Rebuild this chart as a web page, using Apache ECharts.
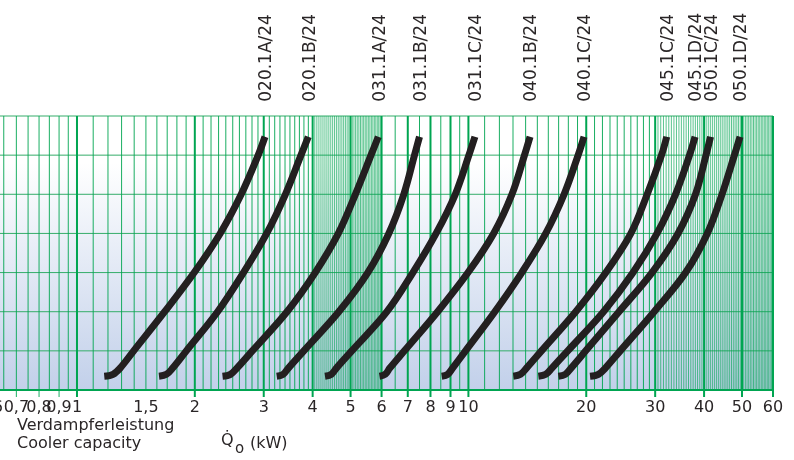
<!DOCTYPE html>
<html>
<head>
<meta charset="utf-8">
<script src="https://cdn.jsdelivr.net/npm/echarts@6/dist/echarts.min.js"></script>
<style>
  html, body { margin: 0; padding: 0; background: #ffffff; }
  #chart { width: 794px; height: 460px; }
</style>
</head>
<body>
<div id="chart"></div>
<script>
// Cooler capacity Q0 (kW) on a logarithmic scale, one curve per unit type.
const tickValues = [0.6, 0.7, 0.8, 0.9, 1, 1.5, 2, 3, 4, 5, 6, 7, 8, 9, 10, 20, 30, 40, 50, 60];
const tickLabels = ['0,6', '0,7', '0,8', '0,9', '1', '1,5', '2', '3', '4', '5', '6', '7', '8', '9', '10', '20', '30', '40', '50', '60'];
const heavyTicks = [1, 2, 3, 4, 5, 6, 7, 8, 9, 10, 20, 30, 40, 50, 60];
const lightTicks = [0.7, 0.8, 0.9];
// log-paper rulings: [from, to, step]
const rulingSteps = [[0.6, 1, 0.05], [1, 4, 0.1], [4, 6, 0.05], [6, 10, 0.5], [10, 30, 1], [30, 60, 0.5]];
const levelRulings = [1, 2, 3, 4, 5, 6, 7];

const unitNames = ['020.1A/24', '020.1B/24', '031.1A/24', '031.1B/24', '031.1C/24', '040.1B/24',
                   '040.1C/24', '045.1C/24', '045.1D/24', '050.1C/24', '050.1D/24'];

// vertical levels shared by every curve
const levels = [0.35, 0.40, 0.56, 1, 2, 3, 4, 5, 6, 6.47];

// capacity (kW) of each unit at the levels above
const q020_1A = [1.174, 1.236, 1.289, 1.396, 1.675, 1.993, 2.322, 2.628, 2.904, 3.022];
const q020_1B = [1.620, 1.693, 1.756, 1.903, 2.287, 2.663, 3.053, 3.408, 3.735, 3.899];
const q031_1A = [2.354, 2.467, 2.563, 2.805, 3.440, 4.061, 4.652, 5.144, 5.638, 5.886];
const q031_1B = [3.238, 3.362, 3.468, 3.797, 4.665, 5.533, 6.261, 6.838, 7.283, 7.500];
const q031_1C = [4.301, 4.464, 4.600, 5.036, 6.191, 7.214, 8.269, 9.258, 10.03, 10.39];
const q040_1B = [5.927, 6.130, 6.298, 6.863, 8.343, 9.977, 11.60, 12.92, 13.91, 14.37];
const q040_1C = [8.546, 8.854, 9.112, 9.831, 11.68, 13.69, 15.76, 17.56, 19.07, 19.74];
const q045_1C = [13.02, 13.59, 14.07, 15.37, 18.80, 22.45, 26.01, 28.63, 31.14, 32.11];
const q045_1D = [15.09, 15.77, 16.34, 17.94, 22.14, 26.34, 30.33, 33.82, 36.72, 37.93];
const q050_1C = [16.97, 17.68, 18.29, 19.94, 24.25, 29.45, 34.32, 38.04, 40.46, 41.55];
const q050_1D = [20.45, 21.48, 22.38, 24.43, 29.82, 35.89, 40.77, 44.45, 47.82, 49.42];

const curves = [q020_1A, q020_1B, q031_1A, q031_1B, q031_1C, q040_1B, q040_1C, q045_1C, q045_1D, q050_1C, q050_1D];

const FONT = '"DejaVu Sans", "Liberation Sans", sans-serif';
const GREEN = '#00a551';
const TEXT = '#2a2627';

// vertical rulings: [value, 0, kind, step]; kind 0 = fine, 1 = fine with tick, 2 = heavy with tick
const rulings = [];
rulingSteps.forEach(([a, b, s]) => {
  const n = Math.round((b - a) / s);
  for (let k = 1; k < n; k++) {
    const v = +(a + k * s).toFixed(4);
    if (heavyTicks.indexOf(v) < 0 && lightTicks.indexOf(v) < 0) rulings.push([v, 0, 0, s]);
  }
});
lightTicks.forEach(v => rulings.push([v, 0, 1, 0.05]));
heavyTicks.forEach(v => rulings.push([v, 0, 2, 0]));

const chart = echarts.init(document.getElementById('chart'), null, { renderer: 'canvas' });

const series = [];

// horizontal rulings
series.push({
  type: 'custom',
  silent: true,
  clip: false,
  z: 1,
  data: levelRulings.map(u => [0.6358, u]),
  renderItem: function (params, api) {
    const u = api.value(1);
    const l = api.coord([0.6358, u]);
    const r = api.coord([60, u]);
    return {
      type: 'line',
      shape: { x1: l[0], y1: l[1], x2: r[0], y2: r[1] },
      style: { stroke: '#35ad6a', lineWidth: 1 }
    };
  }
});

// vertical rulings
series.push({
  type: 'custom',
  silent: true,
  clip: false,
  z: 2,
  data: rulings,
  renderItem: function (params, api) {
    const v = api.value(0), kind = api.value(2), step = api.value(3);
    const b = api.coord([v, 0]);
    const t = api.coord([v, 7]);
    let w = 2, op = 1;
    if (kind !== 2) {
      const gap = api.coord([v + step, 0])[0] - b[0];
      w = 1;
      op = gap < 3 ? 0.65 : 0.9;
    }
    return {
      type: 'line',
      shape: { x1: b[0], y1: b[1] + (kind > 0 ? 7 : 0), x2: t[0], y2: t[1] },
      style: { stroke: GREEN, lineWidth: w, opacity: op }
    };
  }
});

series.push({
  type: 'custom',
  silent: true,
  clip: false,
  z: 4,
  data: tickValues.map((v, i) => [v, 0, i]),
  renderItem: function (params, api) {
    const p = api.coord([api.value(0), 0]);
    return {
      type: 'text',
      x: p[0], y: p[1] + 18,
      style: { text: tickLabels[api.value(2)], font: '16px ' + FONT, fill: TEXT, align: 'center', verticalAlign: 'middle' }
    };
  }
});

curves.forEach((c, i) => {
  series.push({
    name: unitNames[i],
    type: 'line',
    data: c.map((q, k) => [q, levels[k]]),
    smooth: 0.35,
    symbol: 'none',
    z: 3,
    silent: true,
    lineStyle: { color: '#231f20', width: 7, cap: 'butt', join: 'round' }
  });
});

const lastIdx = levels.length - 1;
series.push({
  type: 'custom',
  silent: true,
  clip: false,
  z: 4,
  data: curves.map((c, i) => [c[lastIdx], levels[lastIdx], i]),
  renderItem: function (params, api) {
    const p = api.coord([api.value(0), api.value(1)]);
    return {
      type: 'text',
      x: p[0] + 2, y: p[1] - 35,
      rotation: Math.PI / 2,
      style: { text: unitNames[api.value(2)], font: '17px ' + FONT, fill: TEXT, align: 'left', verticalAlign: 'middle' }
    };
  }
});

chart.setOption({
  animation: false,
  backgroundColor: '#ffffff',
  grid: {
    show: true,
    left: 0, right: 21, top: 116, bottom: 70,
    borderWidth: 0,
    backgroundColor: new echarts.graphic.LinearGradient(0, 0, 0, 1, [
      { offset: 0, color: '#ffffff' },
      { offset: 0.17, color: '#ffffff' },
      { offset: 1, color: '#c2d0ea' }
    ])
  },
  xAxis: {
    type: 'log', logBase: 10, min: 0.6358, max: 60,
    axisLine: { show: true, lineStyle: { color: GREEN, width: 2 } },
    axisTick: { show: false },
    axisLabel: { show: false },
    splitLine: { show: false }
  },
  yAxis: {
    type: 'value', min: 0, max: 7, interval: 1,
    axisLine: { show: false },
    axisTick: { show: false },
    axisLabel: { show: false },
    splitLine: { show: false }
  },
  graphic: [
    { type: 'text', left: 17, top: 418, style: { text: 'Verdampferleistung', font: '16px ' + FONT, fill: TEXT } },
    { type: 'text', left: 17, top: 436, style: { text: 'Cooler capacity', font: '16px ' + FONT, fill: TEXT } },
    { type: 'text', left: 221, top: 433, style: { text: 'Q\u0307', font: '16px ' + FONT, fill: TEXT } },
    { type: 'text', left: 235, top: 442, style: { text: 'o', font: '15px ' + FONT, fill: TEXT } },
    { type: 'text', left: 250, top: 436, style: { text: '(kW)', font: '16px ' + FONT, fill: TEXT } }
  ],
  series: series
});
</script>
</body>
</html>
